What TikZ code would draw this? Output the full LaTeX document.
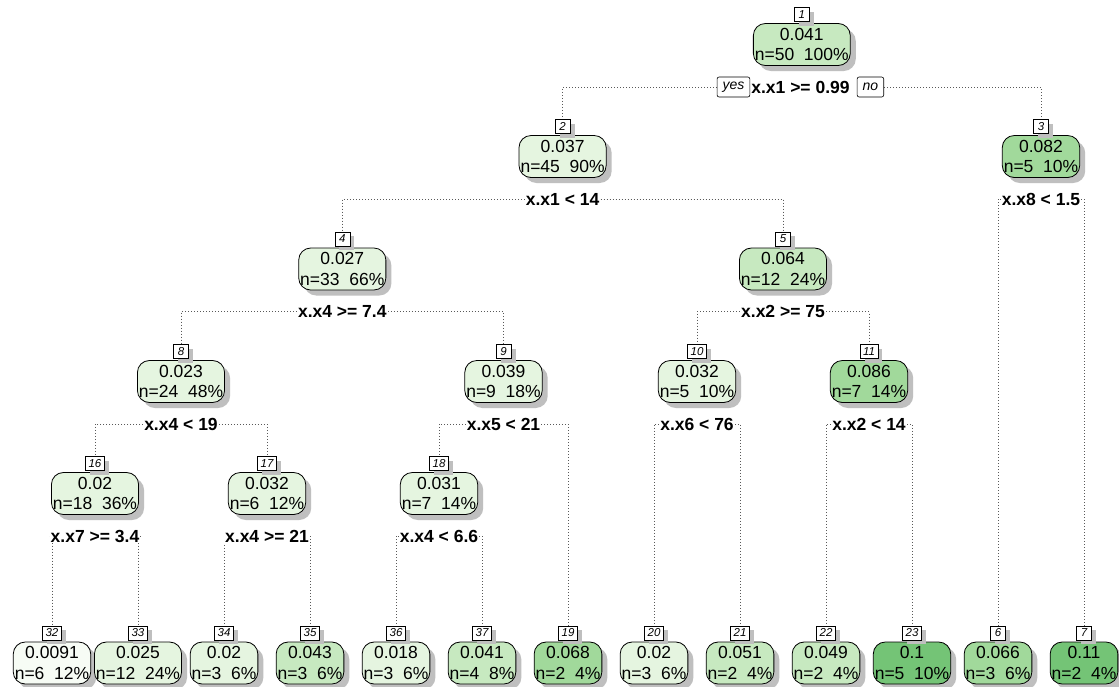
\documentclass[tikz,border=0pt]{standalone}
\usepackage{fontspec}
\setmainfont{Liberation Sans}
\usetikzlibrary{shadows,backgrounds}
\definecolor{ga}{HTML}{F7FCF5}
\definecolor{gb}{HTML}{E5F5E0}
\definecolor{gc}{HTML}{C7E9C0}
\definecolor{gd}{HTML}{A1D99B}
\definecolor{ge}{HTML}{74C476}
\tikzset{
 tbox/.style={draw=black, line width=0.8pt, rounded corners=12pt, align=center,
   inner xsep=1.5pt, inner ysep=2pt, minimum height=42pt,
   font=\fontsize{17.5}{20.5}\selectfont,
   drop shadow={shadow xshift=5.5pt,shadow yshift=-5.5pt,fill=black!25,opacity=1}},
 idbox/.style={draw=black, line width=0.6pt, fill=white, anchor=south,
   inner xsep=3pt, inner ysep=1.5pt, minimum width=15pt, minimum height=14pt,
   font=\fontsize{11.5}{13}\itshape,
   drop shadow={shadow xshift=4.5pt,shadow yshift=-4.5pt,fill=black!25,opacity=1}},
 split/.style={font=\fontsize{17.5}{20}\bfseries, inner sep=1pt, fill=white},
 yn/.style={draw=black, line width=0.6pt, fill=white, rounded corners=2pt,
   font=\fontsize{14}{16}\itshape, inner xsep=5.5pt, inner ysep=1pt, minimum height=20pt},
 conn/.style={line width=0.9pt, black!65, dash pattern=on 0.9pt off 2.1pt},
}
\newcommand\TN[7]{%
  \node[tbox,fill=#4] (#1) at (#2,#3) {#5\\#6};
  \node[idbox] (#1l) at ([yshift=1.5pt]#1.north) {#7};}
\begin{document}
\begin{tikzpicture}[x=1pt,y=-1pt]
\begin{pgfonlayer}{background}
\fill[white] (0,0) rectangle (1119,686);
\end{pgfonlayer}
\useasboundingbox (0,0) rectangle (1119,686);
% level 0
\TN{n1}{801.8}{44.5}{gc}{0.041}{n=50~~100\%}{1}
\node[split] (s1) at (800.5,87) {x.x1 >= 0.99};
\node[yn,anchor=east] (yes) at (s1.west) {yes};
\node[yn,anchor=west] (no) at ([xshift=6pt]s1.east) {no};
% level 1
\TN{n2}{562.6}{156.5}{gb}{0.037}{n=45~~90\%}{2}
\node[split] (s2) at (562.6,199) {x.x1 < 14};
\TN{n3}{1041}{156.5}{gd}{0.082}{n=5~~10\%}{3}
\node[split] (s3) at (1041,199) {x.x8 < 1.5};
% level 2
\TN{n4}{342.3}{269}{gb}{0.027}{n=33~~66\%}{4}
\node[split] (s4) at (342.3,311.5) {x.x4 >= 7.4};
\TN{n5}{783}{269}{gc}{0.064}{n=12~~24\%}{5}
\node[split] (s5) at (783,311.5) {x.x2 >= 75};
% level 3
\TN{n8}{181}{381.5}{gb}{0.023}{n=24~~48\%}{8}
\node[split] (s8) at (181,424) {x.x4 < 19};
\TN{n9}{503.5}{381.5}{gb}{0.039}{n=9~~18\%}{9}
\node[split] (s9) at (503.5,424) {x.x5 < 21};
\TN{n10}{697}{381.5}{gb}{0.032}{n=5~~10\%}{10}
\node[split] (s10) at (697,424) {x.x6 < 76};
\TN{n11}{869}{381.5}{gd}{0.086}{n=7~~14\%}{11}
\node[split] (s11) at (869,424) {x.x2 < 14};
% level 4
\TN{n16}{95}{493.5}{gb}{0.02}{n=18~~36\%}{16}
\node[split] (s16) at (95,536) {x.x7 >= 3.4};
\TN{n17}{267}{493.5}{gb}{0.032}{n=6~~12\%}{17}
\node[split] (s17) at (267,536) {x.x4 >= 21};
\TN{n18}{439}{493.5}{gb}{0.031}{n=7~~14\%}{18}
\node[split] (s18) at (439,536) {x.x4 < 6.6};
% leaves
\TN{n32}{52}{663}{ga}{0.0091}{n=6~~12\%}{32}
\TN{n33}{138}{663}{gb}{0.025}{n=12~~24\%}{33}
\TN{n34}{224}{663}{gb}{0.02}{n=3~~6\%}{34}
\TN{n35}{310}{663}{gc}{0.043}{n=3~~6\%}{35}
\TN{n36}{396}{663}{gb}{0.018}{n=3~~6\%}{36}
\TN{n37}{482}{663}{gc}{0.041}{n=4~~8\%}{37}
\TN{n19}{568}{663}{gd}{0.068}{n=2~~4\%}{19}
\TN{n20}{654}{663}{gb}{0.02}{n=3~~6\%}{20}
\TN{n21}{740}{663}{gc}{0.051}{n=2~~4\%}{21}
\TN{n22}{826}{663}{gc}{0.049}{n=2~~4\%}{22}
\TN{n23}{912}{663}{ge}{0.1}{n=5~~10\%}{23}
\TN{n6}{998}{663}{gd}{0.066}{n=3~~6\%}{6}
\TN{n7}{1084}{663}{ge}{0.11}{n=2~~4\%}{7}
% connectors
\begin{pgfonlayer}{background}
\draw[conn] (yes.west) -| (n2l.north);
\draw[conn] (no.east) -| (n3l.north);
\draw[conn] (s2.west) -| (n4l.north);
\draw[conn] (s2.east) -| (n5l.north);
\draw[conn] (s3.west) -| (n6l.north);
\draw[conn] (s3.east) -| (n7l.north);
\draw[conn] (s4.west) -| (n8l.north);
\draw[conn] (s4.east) -| (n9l.north);
\draw[conn] (s5.west) -| (n10l.north);
\draw[conn] (s5.east) -| (n11l.north);
\draw[conn] (s8.west) -| (n16l.north);
\draw[conn] (s8.east) -| (n17l.north);
\draw[conn] (s9.west) -| (n18l.north);
\draw[conn] (s9.east) -| (n19l.north);
\draw[conn] (s10.west) -| (n20l.north);
\draw[conn] (s10.east) -| (n21l.north);
\draw[conn] (s11.west) -| (n22l.north);
\draw[conn] (s11.east) -| (n23l.north);
\draw[conn] (s16.west) -| (n32l.north);
\draw[conn] (s16.east) -| (n33l.north);
\draw[conn] (s17.west) -| (n34l.north);
\draw[conn] (s17.east) -| (n35l.north);
\draw[conn] (s18.west) -| (n36l.north);
\draw[conn] (s18.east) -| (n37l.north);
\end{pgfonlayer}
\end{tikzpicture}
\end{document}
